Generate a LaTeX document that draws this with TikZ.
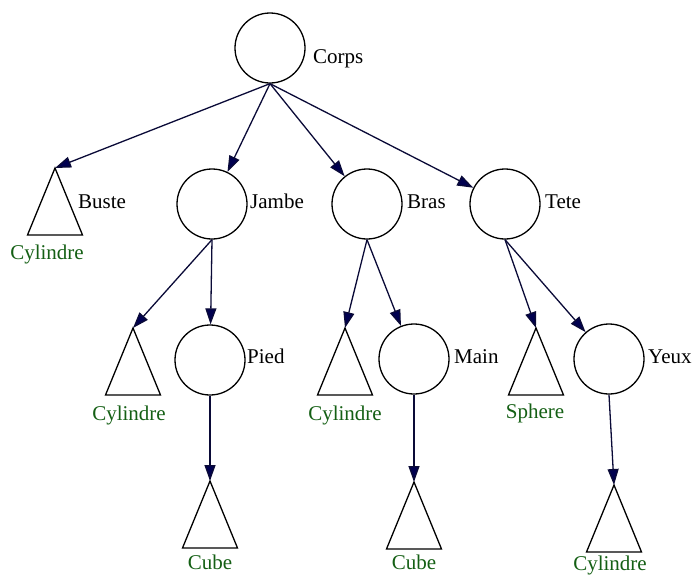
\documentclass[tikz,border=0pt]{standalone}
\usepackage{fontspec}
\setmainfont{Liberation Serif}
\usetikzlibrary{arrows.meta}
\definecolor{edgec}{RGB}{10,10,55}
\definecolor{tipc}{RGB}{0,0,80}
\definecolor{leafc}{RGB}{20,95,20}
\newcommand\mytri[1]{\draw[tri] (#1) -- ++(27.5,67) -- ++(-55,0) -- cycle;}
\begin{document}
\begin{tikzpicture}[x=1pt,y=-1pt,
 circ/.style={circle,draw=black,line width=1.3pt,minimum size=70pt,inner sep=0pt},
 tri/.style={draw=black,line width=1.3pt,line join=miter},
 lbl/.style={anchor=base west,inner sep=0pt,font=\fontsize{21}{25}\selectfont,text=black},
 leaf/.style={anchor=base,inner sep=0pt,font=\fontsize{21}{25}\selectfont,text=leafc},
 edge/.style={draw=edgec,line width=1.3pt,-{Triangle[length=16pt,width=11pt,fill=tipc]}}
]
\useasboundingbox (0,0) rectangle (699,576);
% circles
\node[circ] (corps) at (270,48) {};
\node[circ] (jambe) at (212,204) {};
\node[circ] (bras) at (367,204) {};
\node[circ] (tete) at (505,204) {};
\node[circ] (pied) at (210,360) {};
\node[circ] (main) at (414,359) {};
\node[circ] (yeux) at (609,359) {};
% triangle apexes
\coordinate (buste) at (55,168);
\coordinate (cyla) at (133,328);
\coordinate (cylb) at (345,328);
\coordinate (sphere) at (536,328);
\coordinate (cubea) at (210,481);
\coordinate (cubeb) at (414,482);
\coordinate (cylc) at (614,485);
\mytri{buste}
\mytri{cyla}
\mytri{cylb}
\mytri{sphere}
\mytri{cubea}
\mytri{cubeb}
\mytri{cylc}
% labels
\node[lbl] (lcorps) at (313,63) {Corps};
\node[lbl] (lbuste) at (78,208) {Buste};
\node[lbl] (ljambe) at (250,208) {Jambe};
\node[lbl] (lbras) at (407,208) {Bras};
\node[lbl] (ltete) at (545,208) {Tete};
\node[lbl] (lpied) at (247,363) {Pied};
\node[lbl] (lmain) at (454,363) {Main};
\node[lbl] (lyeux) at (648,363) {Yeux};
% leaf labels
\node[leaf] (lbusteg) at (47,259) {Cylindre};
\node[leaf] (lcyla) at (129,420) {Cylindre};
\node[leaf] (lcylb) at (345,420) {Cylindre};
\node[leaf] (lsphere) at (535,418) {Sphere};
\node[leaf] (lcubea) at (210,569) {Cube};
\node[leaf] (lcubeb) at (414,569) {Cube};
\node[leaf] (lcylc) at (610,570) {Cylindre};
% edges
\draw[edge] (corps.south) -- (buste);
\draw[edge] (corps.south) -- (jambe);
\draw[edge] (corps.south) -- (bras);
\draw[edge] (corps.south) -- (tete);
\draw[edge] (jambe.south) -- (cyla);
\draw[edge] (jambe.south) -- (pied);
\draw[edge] (bras.south) -- (cylb);
\draw[edge] (bras.south) -- (main);
\draw[edge] (tete.south) -- (sphere);
\draw[edge] (tete.south) -- (yeux);
\draw[edge] (pied.south) -- (cubea);
\draw[edge] (main.south) -- (cubeb);
\draw[edge] (yeux.south) -- (cylc);
\end{tikzpicture}
\end{document}
